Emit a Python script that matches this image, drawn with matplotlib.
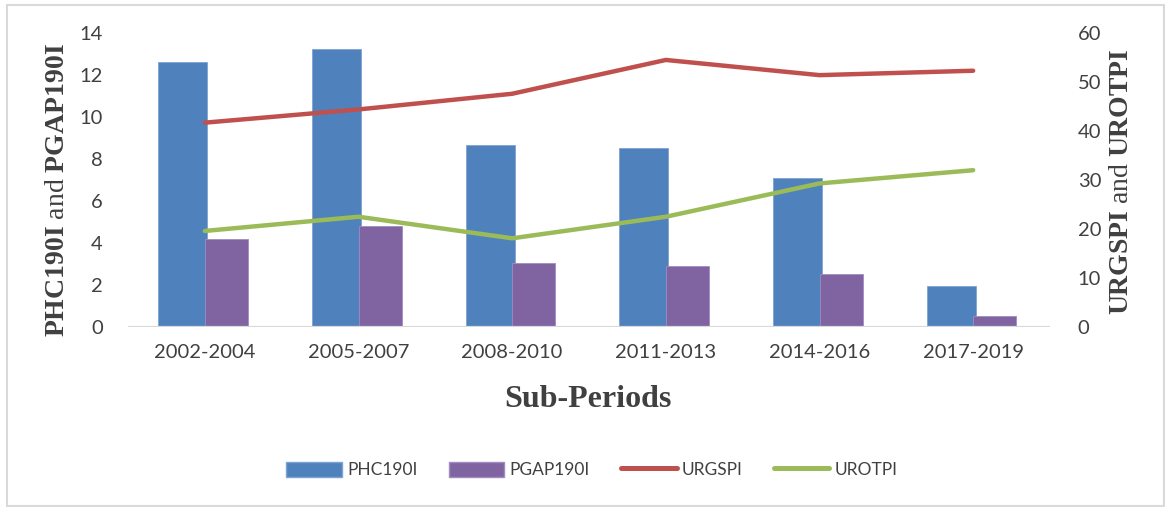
import matplotlib
matplotlib.use("Agg")
import matplotlib.pyplot as plt
import numpy as np
from matplotlib.patches import Patch, Rectangle
from matplotlib.lines import Line2D

categories = ["2002-2004", "2005-2007", "2008-2010", "2011-2013", "2014-2016", "2017-2019"]
phc190i = [12.63, 13.22, 8.67, 8.51, 7.08, 1.97]
pgap190i = [4.21, 4.81, 3.03, 2.92, 2.52, 0.52]
urgspi = [41.7, 44.4, 47.6, 54.5, 51.4, 52.3]
urotpi = [19.6, 22.5, 18.1, 22.5, 29.3, 32.0]
left_ticks = [0, 2, 4, 6, 8, 10, 12, 14]
right_ticks = [0, 10, 20, 30, 40, 50, 60]

plt.rcParams['mathtext.fontset'] = 'custom'
plt.rcParams['mathtext.rm'] = 'Liberation Serif'
plt.rcParams['mathtext.bf'] = 'Liberation Serif:bold'
plt.rcParams['mathtext.it'] = 'Liberation Serif:italic'

TXT = '#404040'
BLUE = '#4F81BD'
PURPLE = '#8064A2'
RED = '#C0504D'
GREEN = '#9BBB59'
W, H = 1165, 507

fig = plt.figure(figsize=(W / 100, H / 100), dpi=100)
fig.patch.set_facecolor('white')
# outer border
fig.add_artist(Rectangle((7 / W, 1 / H), 1 - 8 / W, 1 - 6 / H, transform=fig.transFigure,
                         fill=False, edgecolor='#d9d9d9', linewidth=1.5))

ax = fig.add_axes([128 / W, 1 - 327 / H, (1050 - 128) / W, (327 - 33) / H])
x = np.arange(len(categories)) + 0.5
ax.bar(x - 0.143, phc190i, width=0.319, color=BLUE, edgecolor='#7ea3d3', linewidth=0.6, zorder=2)
ax.bar(x + 0.14, pgap190i, width=0.28, color=PURPLE, edgecolor='#a08cc0', linewidth=0.6, zorder=3)
ax.set_xlim(0, len(categories))
ax.set_ylim(0, 14)
ax.set_yticks(left_ticks)
ax.set_xticks(x)
ax.set_xticklabels(categories)
for s in ax.spines.values():
    s.set_visible(False)
ax.axhline(0, color='#d9d9d9', linewidth=1.6, zorder=4)
ax.tick_params(axis='both', length=0, labelsize=14.5, labelcolor=TXT)
ax.tick_params(axis='x', pad=12)
ax.tick_params(axis='y', pad=18)
for lab in ax.get_xticklabels() + ax.get_yticklabels():
    lab.set_fontfamily('Lato')

ax2 = ax.twinx()
ax2.plot(x, urgspi, color=RED, linewidth=3.2, solid_capstyle='round', solid_joinstyle='round', zorder=5)
ax2.plot(x, urotpi, color=GREEN, linewidth=3.2, solid_capstyle='round', solid_joinstyle='round', zorder=5)
ax2.set_ylim(0, 60)
ax2.set_yticks(right_ticks)
for s in ax2.spines.values():
    s.set_visible(False)
ax2.tick_params(axis='y', length=0, labelsize=14.5, labelcolor=TXT, pad=20)
for lab in ax2.get_yticklabels():
    lab.set_fontfamily('Lato')

fig.text(58 / W, 1 - 190 / H, r"$\mathbf{PHC190I}$ and $\mathbf{PGAP190I}$", rotation=90,
         ha='center', va='center', fontsize=20, color=TXT, family='Liberation Serif')
fig.text(1121 / W, 1 - 182 / H, r"$\mathbf{URGSPI}$ and $\mathbf{UROTPI}$", rotation=90,
         ha='center', va='center', fontsize=20, color=TXT, family='Liberation Serif')
fig.text(588 / W, 1 - 407 / H, "Sub-Periods", ha='center', va='baseline', fontsize=23,
         fontweight='bold', color=TXT, family='Liberation Serif')

handles = [Patch(facecolor=BLUE, edgecolor='#7ea3d3'), Patch(facecolor=PURPLE, edgecolor='#a08cc0'),
           Line2D([], [], color=RED, linewidth=3.6, solid_capstyle='round'),
           Line2D([], [], color=GREEN, linewidth=3.6, solid_capstyle='round')]
labels = ["PHC190I", "PGAP190I", "URGSPI", "UROTPI"]
leg = fig.legend(handles, labels, loc='center', bbox_to_anchor=(592 / W, 1 - 470 / H), ncol=4,
                 frameon=False, prop={'family': 'Lato', 'size': 12.5}, handlelength=3.2,
                 handleheight=1.0, handletextpad=0.3, columnspacing=1.8)
for t in leg.get_texts():
    t.set_color(TXT)

fig.savefig("out.png", dpi=100, facecolor='white')
